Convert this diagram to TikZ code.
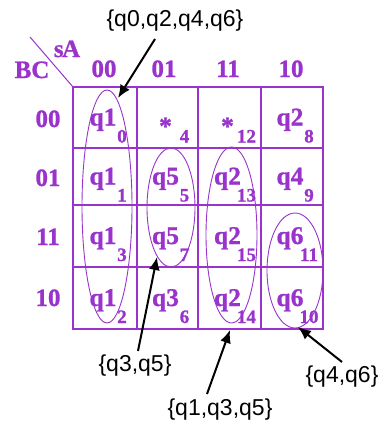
\documentclass[tikz,border=0pt]{standalone}
\usepackage{fontspec}
\setmainfont{Liberation Serif}
\newfontfamily\kfont{Liberation Serif Bold}[FakeBold=1]
\newfontfamily\lblfont{Liberation Sans}
\usetikzlibrary{arrows.meta}
\definecolor{kpurple}{HTML}{9933CC}
\tikzset{
  kline/.style={draw=kpurple, line width=1.3pt},
  kloop/.style={draw=kpurple, line width=0.9pt},
  big/.style={text=kpurple, font=\kfont\fontsize{25.5}{25.5}\selectfont, anchor=base, inner sep=0pt},
  small/.style={text=kpurple, font=\kfont\fontsize{19}{19}\selectfont, anchor=base, inner sep=0pt},
  hdr/.style={text=kpurple, font=\kfont\fontsize{25}{25}\selectfont, anchor=base, inner sep=0pt},
  lbl/.style={font=\lblfont\fontsize{23}{23}\selectfont, text=black, inner sep=0pt},
  arr/.style={draw=black, line width=2pt, -{Latex[length=13pt,width=11pt]}}
}
\begin{document}
\begin{tikzpicture}[x=1pt,y=-1pt]
\useasboundingbox (0,0) rectangle (380,426);
% grid
\draw[kline] (73,87) rectangle (323,329);
\draw[kline] (137,87) -- (137,329) (198,87) -- (198,329) (261,87) -- (261,329);
\draw[kline] (73,148) -- (323,148) (73,205) -- (323,205) (73,267) -- (323,267);
\draw[kline, line width=1pt] (30,37) -- (73,87);
% headers
\node[hdr] (hsA) at (67,57) {s\kern-1.5ptA};
\node[hdr] (hBC) at (32,78) {BC};
\node[hdr] (c00) at (104,77) {00};
\node[hdr] (c01) at (164,77) {01};
\node[hdr] (c11) at (228,77) {11};
\node[hdr] (c10) at (291,77) {10};
\node[hdr] (r00) at (48,127) {00};
\node[hdr] (r01) at (48,186) {01};
\node[hdr] (r11) at (48,245) {11};
\node[hdr] (r10) at (48,306) {10};
% cells
\foreach \cx/\cy/\m/\s/\nm in {
  105/117.5/q1/0/a, 167.5/117.5/\raisebox{-9pt}{*}/4/b, 229.5/117.5/\raisebox{-9pt}{*}/12/c, 292/117.5/q2/8/d,
  105/176.5/q1/1/e, 167.5/176.5/q5/5/f, 229.5/176.5/q2/13/g, 292/176.5/q4/9/h,
  105/236/q1/3/i, 167.5/236/q5/7/j, 229.5/236/q2/15/k, 292/236/q6/11/l,
  105/298/q1/2/m, 167.5/298/q3/6/n, 229.5/298/q2/14/o, 292/298/q6/10/p}{
  \node[big] (m\nm) at (\cx-2,\cy+8) {\m};
  \node[small] (s\nm) at (\cx+17,\cy+25) {\s};
}
% loops
\draw[kloop] (107,206.5) ellipse [x radius=25pt, y radius=116.5pt];
\draw[kloop] (171,207.5) ellipse [x radius=24pt, y radius=59.5pt];
\draw[kloop] (231.5,235) ellipse [x radius=25.5pt, y radius=88pt];
\draw[kloop] (295,270.5) ellipse [x radius=28pt, y radius=57.5pt];
% labels
\node[lbl] (l1) at (175,21) {\{q0,q2,q4,q6\}};
\node[lbl] (l2) at (135,366) {\{q3,q5\}};
\node[lbl] (l3) at (220,410) {\{q1,q3,q5\}};
\node[lbl] (l4) at (342,377) {\{q4,q6\}};
\coordinate (s1) at (155,39); \coordinate (t1) at (118,98);
\coordinate (s2) at (138,351); \coordinate (t2) at (157,257);
\coordinate (s3) at (207,394); \coordinate (t3) at (230,330);
\coordinate (s4) at (342,362); \coordinate (t4) at (298,327);
\draw[arr] (s1) -- (t1);
\draw[arr] (s2) -- (t2);
\draw[arr] (s3) -- (t3);
\draw[arr] (s4) -- (t4);
\end{tikzpicture}
\end{document}
